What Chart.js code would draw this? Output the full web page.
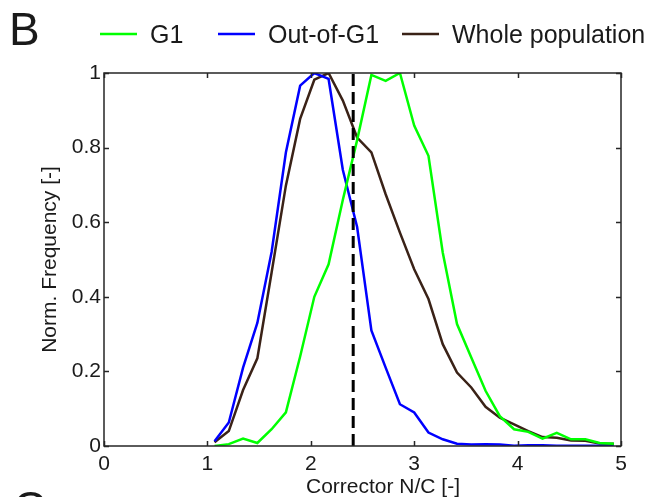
<!DOCTYPE html>
<html>
<head>
<meta charset="utf-8">
<script src="https://cdn.jsdelivr.net/npm/chart.js@4.4.1/dist/chart.umd.min.js"></script>
<style>
  html, body { margin: 0; padding: 0; background: #fff; }
</style>
</head>
<body>
<canvas id="chart" width="653" height="497"></canvas>
<script>
// bin centres of the N/C histogram (29 bins between 1 and 5)
const binCenters = [1.069, 1.207, 1.345, 1.483, 1.621, 1.759, 1.897, 2.034, 2.172, 2.310,
  2.448, 2.586, 2.724, 2.862, 3.000, 3.138, 3.276, 3.414, 3.552, 3.690,
  3.828, 3.966, 4.103, 4.241, 4.379, 4.517, 4.655, 4.793, 4.931];

const g1 = [0.0, 0.005, 0.02, 0.008, 0.045, 0.09, 0.24, 0.40, 0.487, 0.66,
  0.82, 0.995, 0.979, 1.0, 0.859, 0.778, 0.519, 0.327, 0.237, 0.148,
  0.08, 0.045, 0.038, 0.02, 0.035, 0.018, 0.018, 0.008, 0.006];

const outOfG1 = [0.013, 0.063, 0.21, 0.33, 0.52, 0.787, 0.966, 1.0, 0.984, 0.74,
  0.587, 0.31, 0.21, 0.112, 0.09, 0.036, 0.018, 0.006, 0.004, 0.005,
  0.004, 0.001, 0.002, 0.002, 0.001, 0.001, 0.001, 0.001, 0.0];

const whole = [0.01, 0.04, 0.15, 0.235, 0.465, 0.698, 0.877, 0.982, 1.0, 0.926,
  0.827, 0.787, 0.675, 0.572, 0.474, 0.394, 0.273, 0.197, 0.157, 0.105,
  0.076, 0.058, 0.04, 0.024, 0.022, 0.015, 0.014, 0.007, 0.006];

const seriesNames = ["G1", "Out-of-G1", "Whole population"];
const xTicks = [0, 1, 2, 3, 4, 5];
const yTicks = [0, 0.2, 0.4, 0.6, 0.8, 1];
const threshold = 2.41;

const FONT = "'Liberation Sans', Arial, Helvetica, sans-serif";
const AXIS = "#262626";

const toPoints = (ys) => ys.map((y, i) => ({ x: binCenters[i], y }));

// box, inward ticks, dashed threshold, legend and panel letters
const decorations = {
  id: "decorations",
  afterDatasetsDraw(chart) {
    const { ctx, chartArea: a, scales: { x } } = chart;
    const px = x.getPixelForValue(threshold);
    ctx.save();
    ctx.strokeStyle = "#000";
    ctx.lineWidth = 3;
    ctx.setLineDash([12, 6]);
    ctx.beginPath();
    ctx.moveTo(px, a.bottom);
    ctx.lineTo(px, a.top);
    ctx.stroke();
    ctx.restore();
  },
  afterDraw(chart) {
    const { ctx, chartArea: a, scales: { x, y } } = chart;
    ctx.save();
    ctx.strokeStyle = AXIS;
    ctx.lineWidth = 1.5;
    ctx.strokeRect(a.left, a.top, a.right - a.left, a.bottom - a.top);

    const tl = 5;
    ctx.beginPath();
    xTicks.forEach((v) => {
      const p = Math.round(x.getPixelForValue(v)) + 0.5;
      ctx.moveTo(p, a.bottom); ctx.lineTo(p, a.bottom - tl);
      ctx.moveTo(p, a.top); ctx.lineTo(p, a.top + tl);
    });
    yTicks.forEach((v) => {
      const p = Math.round(y.getPixelForValue(v)) + 0.5;
      ctx.moveTo(a.left, p); ctx.lineTo(a.left + tl, p);
      ctx.moveTo(a.right, p); ctx.lineTo(a.right - tl, p);
    });
    ctx.stroke();

    // x-axis title
    ctx.fillStyle = "#1a1a1a";
    ctx.font = "21px " + FONT;
    ctx.textAlign = "center";
    ctx.textBaseline = "alphabetic";
    ctx.fillText("Corrector N/C [-]", 383, 493);

    // panel letters
    ctx.textAlign = "left";
    ctx.font = "46px " + FONT;
    ctx.fillText("B", 9, 45);
    ctx.fillText("C", 13, 524);

    // legend
    const starts = [100, 218, 402];
    ctx.font = "25px " + FONT;
    chart.data.datasets.forEach((ds, i) => {
      const lx = starts[i];
      ctx.strokeStyle = ds.borderColor;
      ctx.lineWidth = 2.5;
      ctx.beginPath();
      ctx.moveTo(lx, 34);
      ctx.lineTo(lx + 37, 34);
      ctx.stroke();
      ctx.fillStyle = "#1a1a1a";
      ctx.fillText(ds.label, lx + 50, 43);
    });
    ctx.restore();
  },
};

new Chart(document.getElementById("chart"), {
  type: "line",
  data: {
    datasets: [
      { label: seriesNames[0], data: toPoints(g1), borderColor: "#00ff00" },
      { label: seriesNames[1], data: toPoints(outOfG1), borderColor: "#0000ff" },
      { label: seriesNames[2], data: toPoints(whole), borderColor: "#3a2217" },
    ],
  },
  options: {
    responsive: false,
    animation: false,
    devicePixelRatio: 1,
    layout: { padding: { left: 0, top: 73, right: 32, bottom: 0 } },
    elements: {
      line: { borderWidth: 2.5, tension: 0, borderJoinStyle: "miter" },
      point: { radius: 0 },
    },
    plugins: { legend: { display: false }, tooltip: { enabled: false } },
    scales: {
      x: {
        type: "linear",
        min: 0,
        max: 5,
        afterFit: (s) => { s.height = 51; },
        afterBuildTicks: (s) => { s.ticks = xTicks.map((v) => ({ value: v })); },
        grid: { display: false, drawTicks: false },
        border: { display: false },
        ticks: { color: "#1a1a1a", padding: 6, font: { family: FONT, size: 21 } },
      },
      y: {
        min: 0,
        max: 1,
        afterFit: (s) => { s.width = 104; },
        afterBuildTicks: (s) => { s.ticks = yTicks.map((v) => ({ value: v })); },
        grid: { display: false, drawTicks: false },
        border: { display: false },
        ticks: {
          color: "#1a1a1a",
          padding: 3,
          font: { family: FONT, size: 21 },
          callback: (v) => String(v),
        },
        title: {
          display: true,
          text: "Norm. Frequency [-]",
          color: "#1a1a1a",
          font: { family: FONT, size: 21 },
          padding: { top: 38, bottom: 0 },
        },
      },
    },
  },
  plugins: [decorations],
});
</script>
</body>
</html>
